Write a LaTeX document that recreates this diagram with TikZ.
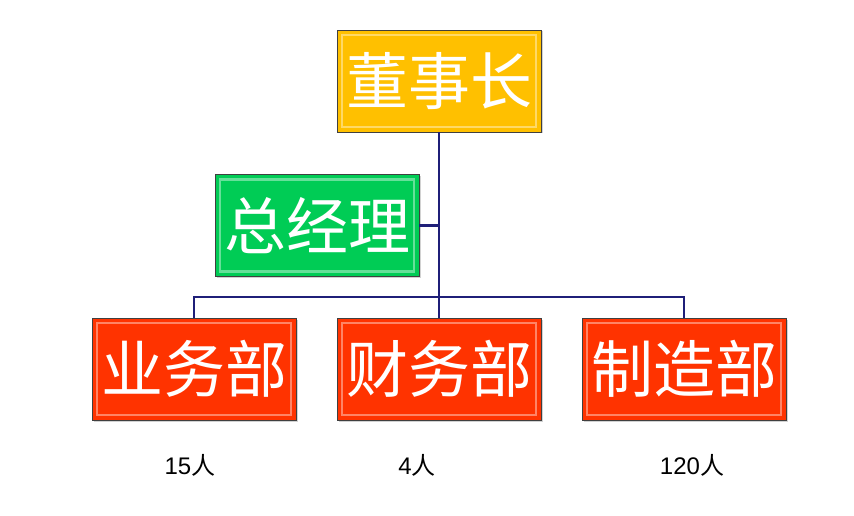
\documentclass[tikz,border=0pt]{standalone}
\usepackage{fontspec}
\setmainfont{Liberation Sans}
\newfontfamily\cjk{Noto Sans CJK SC}
\usetikzlibrary{positioning,shadows}

\definecolor{chairgold}{HTML}{FFC000}
\definecolor{mgrgreen}{HTML}{00CC55}
\definecolor{deptred}{HTML}{FF3300}
\definecolor{linknavy}{HTML}{1F1F78}

\tikzset{
  postbox/.style={draw=black!75, line width=0.8pt, fill=#1,
    minimum width=204pt, minimum height=102pt, inner sep=0pt,
    text=white, font=\cjk\fontsize{62}{66}\selectfont,
    drop shadow={shadow xshift=1.5pt, shadow yshift=-1.5pt, opacity=0.35},
    path picture={
      \draw[white, opacity=0.4, line width=2.5pt]
        ([shift={(5pt,-5pt)}]path picture bounding box.north west) rectangle
        ([shift={(-5pt,5pt)}]path picture bounding box.south east);
    }},
  link/.style={draw=linknavy, line width=2.8pt},
  headcount/.style={font=\fontsize{24}{28}\selectfont, text=black}
}

\begin{document}
\begin{tikzpicture}[x=1pt, y=-1pt]
  \useasboundingbox[fill=white] (0,0) rectangle (854,516);

  % boxes
  \node[postbox=chairgold] (chair) at (439,81) {董事长};
  \node[postbox=mgrgreen]  (gm)    at (317,225.5) {总经理};
  \node[postbox=deptred]   (sales) at (194,369) {业务部};
  \node[postbox=deptred]   (fin)   at (439,369) {财务部};
  \node[postbox=deptred]   (make)  at (684,369) {制造部};

  % connectors
  \coordinate (bus) at (439,297);
  \begin{scope}[on background layer/.try]
    \draw[link] (chair.south) -- (fin.north);
    \draw[link] (gm.east) -- (gm.east -| chair.south);
    \draw[link] (sales.north) |- (bus) -| (make.north);
  \end{scope}

  % head counts
  \node[headcount] (nsales) at (190,465) {15{\cjk 人}};
  \node[headcount] (nfin)   at (417,465) {4{\cjk 人}};
  \node[headcount] (nmake)  at (692,465) {120{\cjk 人}};
\end{tikzpicture}
\end{document}
